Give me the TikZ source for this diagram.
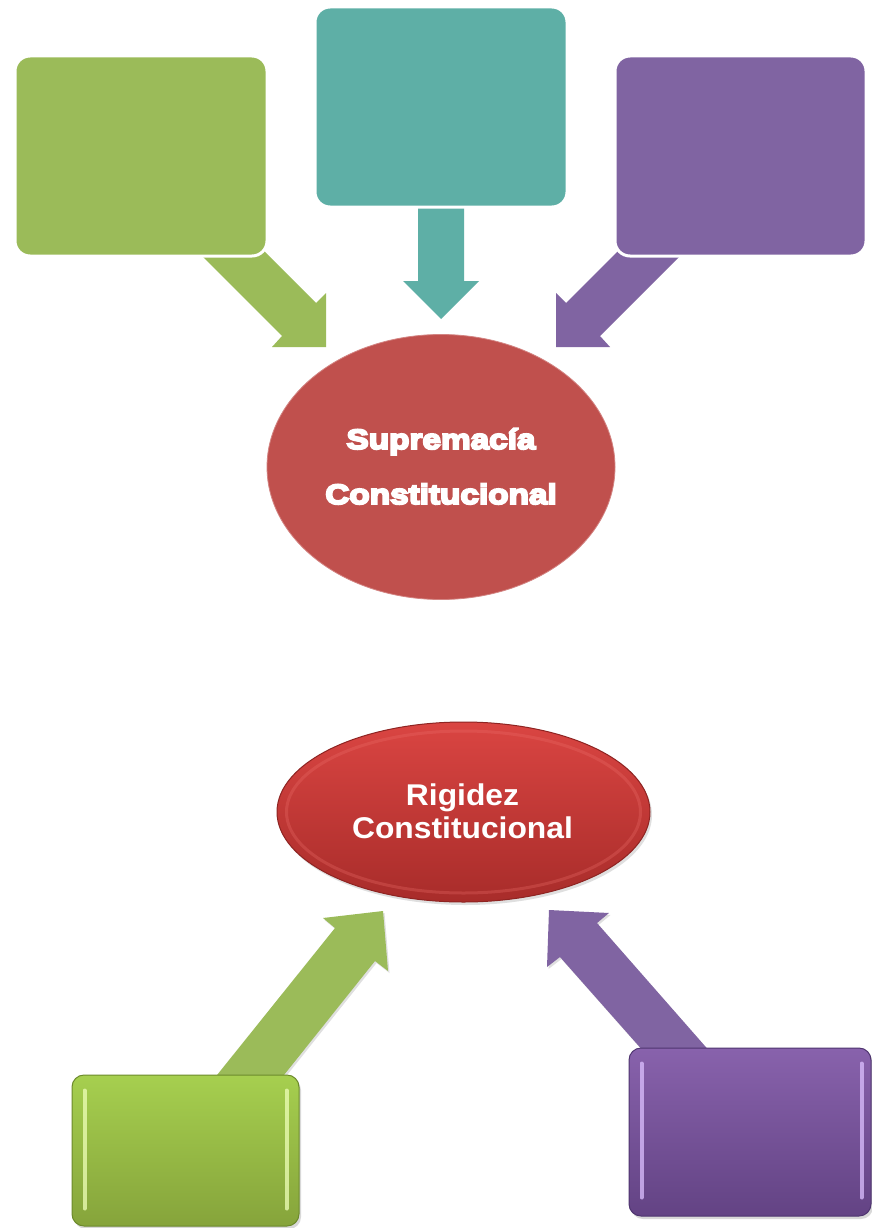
\documentclass[tikz,border=0pt]{standalone}
\usepackage{fontspec}
\setmainfont{Liberation Sans}
\newfontfamily\heavyfont[FakeBold=7,FakeStretch=1.19]{Liberation Sans}
\newfontfamily\stretchfont[FakeStretch=1.06]{Liberation Sans}
\usetikzlibrary{shapes.geometric,shadows}
\definecolor{gA}{HTML}{9BBB59}
\definecolor{tA}{HTML}{5EAFA6}
\definecolor{pA}{HTML}{8064A2}
\definecolor{rA}{HTML}{C0504D}
\definecolor{rTop}{HTML}{DA4542}
\definecolor{rBot}{HTML}{A82C2A}
\definecolor{rEdge}{HTML}{8E2422}
\definecolor{rHi}{HTML}{EC6E6A}
\definecolor{gTop}{HTML}{A6CF4F}
\definecolor{gBot}{HTML}{86A43B}
\definecolor{gEdge}{HTML}{6C8A2C}
\definecolor{gHi}{HTML}{EEFFB8}
\definecolor{pTop}{HTML}{8862AC}
\definecolor{pBot}{HTML}{634384}
\definecolor{pEdge}{HTML}{4F3570}
\definecolor{pHi}{HTML}{DCC0FF}
\begin{document}
\begin{tikzpicture}[x=1pt,y=-1pt,
  topbox/.style={rectangle,rounded corners=15pt,draw=white,line width=3pt,inner sep=0pt},
  lowbox/.style={rectangle,rounded corners=12pt,line width=1pt,inner sep=0pt,
    drop shadow={opacity=0.3,shadow xshift=2pt,shadow yshift=-3pt}},
  blockarrow/.style={draw=none},
  shadowarrow/.style={drop shadow={opacity=0.25,shadow xshift=1.5pt,shadow yshift=-2pt}},
  bigtxt/.style={text=white,inner sep=0pt,anchor=base,font=\heavyfont\bfseries\fontsize{28}{30}\selectfont},
  midtxt/.style={text=white,inner sep=0pt,anchor=base,font=\stretchfont\bfseries\fontsize{30}{33}\selectfont},
  hiline/.style={line width=4pt,line cap=round,opacity=0.75}]
\useasboundingbox (0,0) rectangle (872,1228);
\fill[white] (0,0) rectangle (872,1228);

% ---------- upper diagram ----------
\fill[gA,blockarrow] (326,347) -- (272,347) -- (282,336) -- (182,236) -- (216,203) -- (316,303) -- (326,293) -- cycle;
\fill[pA,blockarrow] (556,347) -- (610,347) -- (600,336) -- (700,236) -- (666,203) -- (566,303) -- (556,293) -- cycle;
\fill[tA,blockarrow] (441,319) -- (403,281) -- (418,281) -- (418,200) -- (464,200) -- (464,281) -- (479,281) -- cycle;

\node[topbox,fill=gA,minimum width=252pt,minimum height=200pt] (boxG) at (141,156) {};
\node[topbox,fill=tA,minimum width=252pt,minimum height=200pt] (boxT) at (441,107) {};
\node[topbox,fill=pA,minimum width=251pt,minimum height=200pt] (boxP) at (740.5,156) {};

\node[ellipse,fill=rA,draw=rA!70!white,line width=0.8pt,minimum width=348pt,minimum height=265pt,inner sep=0pt] (sup) at (441,467) {};
\node[bigtxt] (supA) at (441,449) {Supremacía};
\node[bigtxt] (supB) at (441,504) {Constitucional};

% ---------- lower diagram ----------
\fill[gA,blockarrow,shadowarrow] (383,911) -- (323,918) -- (335,928) -- (205,1090) -- (272,1090) -- (375,961) -- (388,971) -- cycle;
\fill[pA,blockarrow,shadowarrow] (549,910) -- (609,913) -- (597,923) -- (726,1070) -- (660,1070) -- (560,957) -- (547,967) -- cycle;

\node[ellipse,draw=rEdge,line width=1pt,top color=rTop,bottom color=rBot,
  minimum width=373pt,minimum height=180pt,inner sep=0pt,
  drop shadow={opacity=0.25,shadow xshift=2pt,shadow yshift=-3pt}] (rig) at (463.5,812) {};
\draw[rHi,line width=3pt,opacity=0.3] (463.5,812) ellipse [x radius=177, y radius=81];
\node[midtxt] (rigA) at (462.5,805) {Rigidez};
\node[midtxt] (rigB) at (462.5,838) {Constitucional};

\node[lowbox,draw=gEdge,top color=gTop,bottom color=gBot,minimum width=227pt,minimum height=151pt] (lowG) at (185.5,1150.5) {};
\draw[gHi,hiline] (lowG.north west) ++(13,16) coordinate (gl1) -- ++(0,118) coordinate (gl2);
\draw[gHi,hiline] (lowG.north east) ++(-13,16) coordinate (gr1) -- ++(0,118) coordinate (gr2);

\node[lowbox,draw=pEdge,top color=pTop,bottom color=pBot,minimum width=242pt,minimum height=168pt] (lowP) at (750,1132) {};
\draw[pHi,hiline] (lowP.north west) ++(13,16) coordinate (pl1) -- ++(0,134) coordinate (pl2);
\draw[pHi,hiline] (lowP.north east) ++(-10,16) coordinate (pr1) -- ++(0,134) coordinate (pr2);
\end{tikzpicture}
\end{document}
